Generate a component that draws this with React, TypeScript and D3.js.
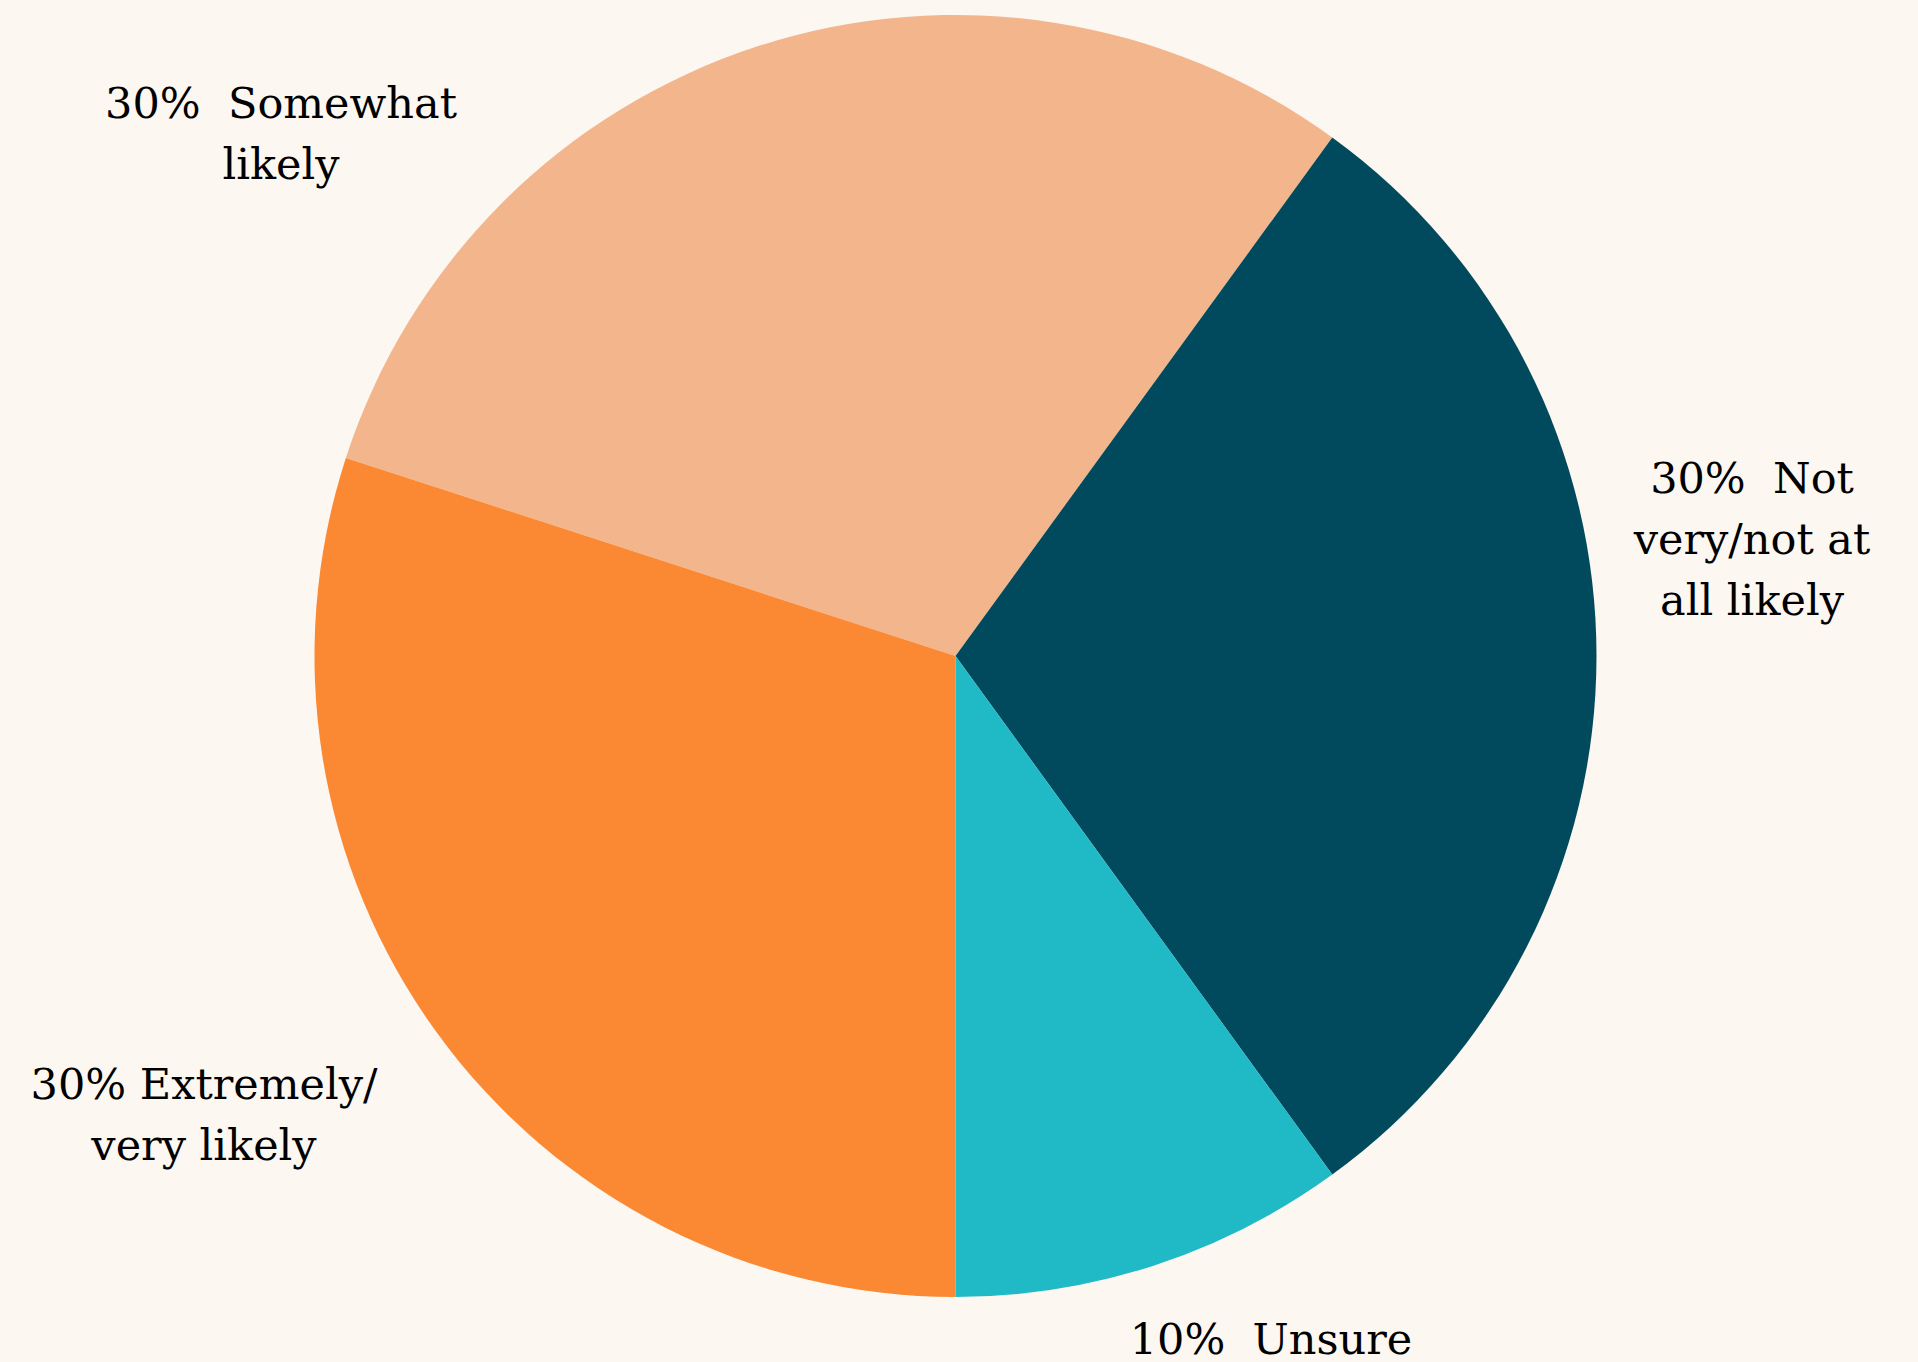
import React from "react";
import * as d3 from "d3";

const categories = ["Somewhat likely", "Not very/not at all likely", "Unsure", "Extremely/very likely"];
const values = [30, 30, 10, 30];
const colors = ["#f3b58c", "#014a5e", "#20bac6", "#fb8832"];
const labelLines = [
  ["30%  Somewhat", "likely"],
  ["30%  Not", "very/not at", "all likely"],
  ["10%  Unsure"],
  ["30% Extremely/", "very likely"],
];

const W = 1918;
const H = 1362;
const CX = 955.5;
const CY = 656;
const R = 641;
const FONT = 43;
const LINE = 61;

// label anchor layout (center x, first baseline y) in page coordinates
const labelLayout: Record<string, [number, number]> = {
  "Somewhat likely": [281, 118],
  "Not very/not at all likely": [1752, 493],
  "Unsure": [1271, 1354],
  "Extremely/very likely": [204, 1099],
};

export default function App() {
  const pie = d3
    .pie<number>()
    .sort(null)
    .startAngle(-0.4 * Math.PI)
    .endAngle(1.6 * Math.PI);
  const arcs = pie(values);
  const arc = d3.arc<d3.PieArcDatum<number>>().innerRadius(0).outerRadius(R);

  return (
    <svg
      width={W}
      height={H}
      style={{ position: "absolute", left: 0, top: 0 }}
      fontFamily="'DejaVu Serif', serif"
    >
      <rect x={0} y={0} width={W} height={H} fill="#fcf7f1" />
      <g transform={`translate(${CX},${CY})`}>
        {arcs.map((a, i) => (
          <path key={categories[i]} d={arc(a) || ""} fill={colors[i]} />
        ))}
      </g>
      {categories.map((c, i) => {
        const [x, y] = labelLayout[c];
        return (
          <text key={c} x={x} y={y} textAnchor="middle" fontSize={FONT} fill="#000">
            {labelLines[i].map((ln, j) => (
              <tspan key={j} x={x} y={y + j * LINE} style={{ whiteSpace: "pre" }}>
                {ln}
              </tspan>
            ))}
          </text>
        );
      })}
    </svg>
  );
}
